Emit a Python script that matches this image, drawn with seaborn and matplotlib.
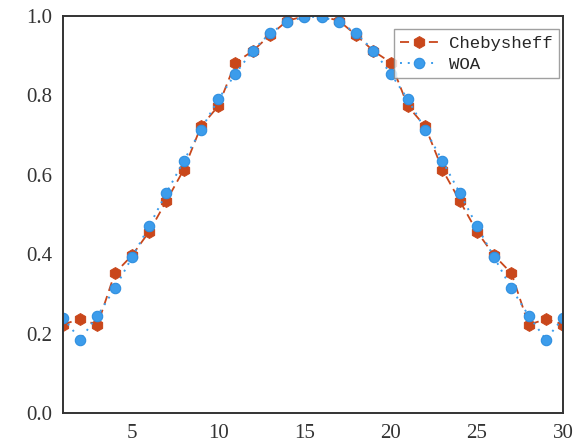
import numpy as np
import pandas as pd
import matplotlib
matplotlib.use("Agg")
import matplotlib.pyplot as plt
from matplotlib.ticker import MultipleLocator
import seaborn as sns

# Data (x = 1..30, symmetric window coefficients)
x_vals = list(range(1, 31))
cheb_half = [0.223, 0.237, 0.222, 0.352, 0.397, 0.457, 0.535, 0.613, 0.722, 0.773,
             0.883, 0.912, 0.952, 0.988, 1.000]
woa_half = [0.240, 0.185, 0.245, 0.314, 0.392, 0.471, 0.555, 0.635, 0.714, 0.790,
            0.855, 0.913, 0.957, 0.985, 0.998]
cheb = cheb_half + cheb_half[::-1]
woa = woa_half + woa_half[::-1]
series_names = ["Chebysheff", "WOA"]
x_ticks = [5, 10, 15, 20, 25, 30]
y_ticks = [0.0, 0.2, 0.4, 0.6, 0.8, 1.0]

df = pd.DataFrame({"x": x_vals, "Chebysheff": cheb, "WOA": woa})

sns.set_style("white")
plt.rcParams["font.family"] = ["Liberation Serif", "DejaVu Serif"]

fig = plt.figure(figsize=(5.85, 4.47), dpi=100)
ax = fig.add_axes([0.1077, 0.076, 0.855, 0.888])

sns.lineplot(data=df, x="x", y="Chebysheff", ax=ax, color="#C9471B",
             linestyle=(0, (5, 3)), linewidth=1.3, marker="h", markersize=8.5,
             markeredgecolor="#C9471B", label=series_names[0])
sns.lineplot(data=df, x="x", y="WOA", ax=ax, color="#3C9CEB",
             linestyle=(0, (1, 3)), linewidth=1.4, marker="o", markersize=7.5,
             markeredgecolor="#2F8FE0", markeredgewidth=0.8, label=series_names[1])

ax.set_xlim(1, 30)
ax.set_ylim(0, 1.0)
ax.set_xticks(x_ticks)
ax.set_yticks(y_ticks)
ax.set_yticklabels([f"{v:.1f}" for v in y_ticks])
ax.xaxis.set_minor_locator(MultipleLocator(2.5))
ax.yaxis.set_minor_locator(MultipleLocator(0.1))
ax.tick_params(which="major", direction="in", length=5, width=1.1, colors="#333333",
               labelsize=15, labelcolor="#333333", pad=8)
ax.tick_params(which="minor", direction="in", length=3, width=1.0, colors="#333333")
ax.tick_params(axis="x", which="both", top=False)
ax.tick_params(axis="y", which="both", right=False)
ax.set_xlabel("")
ax.set_ylabel("")
for s in ax.spines.values():
    s.set_visible(True)
    s.set_color("#333333")
    s.set_linewidth(1.4)

leg = ax.legend(loc="upper right", bbox_to_anchor=(0.998, 0.975), frameon=True,
                fancybox=False, edgecolor="#888888",
                prop={"family": ["Liberation Mono", "DejaVu Sans Mono"], "size": 12.5},
                handlelength=2.2, borderpad=0.35, labelspacing=0.35, handletextpad=0.6,
                borderaxespad=0.2)
leg.get_frame().set_linewidth(1.0)

fig.savefig("out.png", dpi=100)
